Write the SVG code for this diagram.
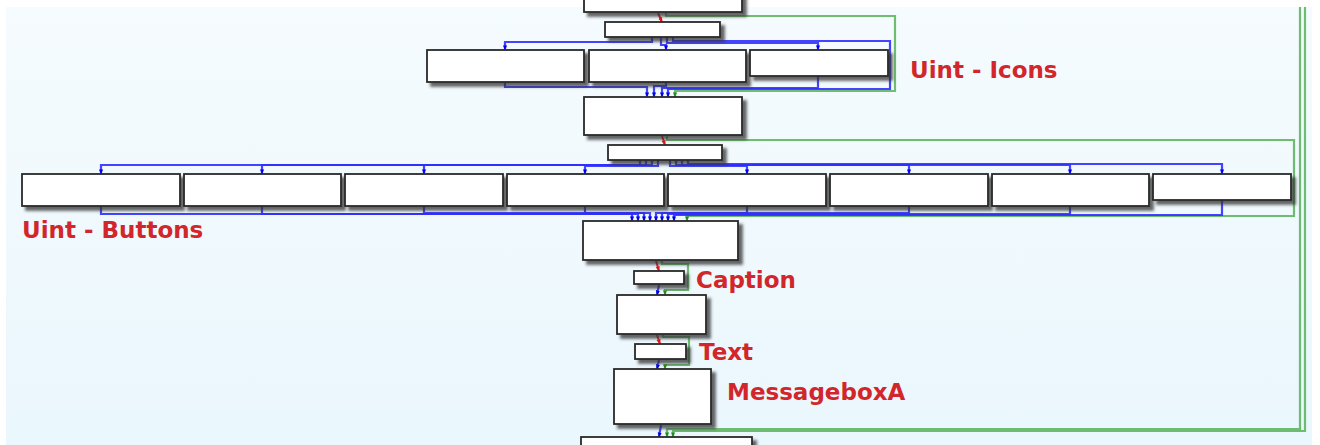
<svg xmlns="http://www.w3.org/2000/svg" width="1320" height="445" viewBox="0 0 1320 445">
<defs>
<linearGradient id="bg" x1="0" y1="0" x2="0" y2="1">
<stop offset="0" stop-color="#f5fbfe"/>
<stop offset="1" stop-color="#eaf7fd"/>
</linearGradient>
<filter id="sh" x="-10%" y="-30%" width="130%" height="180%">
<feDropShadow dx="4" dy="4" stdDeviation="1.8" flood-color="#333" flood-opacity="0.75"/>
</filter>
<marker id="ag" viewBox="0 0 6 6" refX="5.5" refY="3" markerWidth="5" markerHeight="5" orient="auto" markerUnits="userSpaceOnUse"><path d="M0 0.5 L6 3 L0 5.5 Z" fill="#1e8c1e"/></marker>
<marker id="abl" viewBox="0 0 6 6" refX="5.5" refY="3" markerWidth="5" markerHeight="5" orient="auto" markerUnits="userSpaceOnUse"><path d="M0 0.5 L6 3 L0 5.5 Z" fill="#0000ee"/></marker>
<marker id="ar" viewBox="0 0 6 6" refX="5.5" refY="3" markerWidth="5" markerHeight="5" orient="auto" markerUnits="userSpaceOnUse"><path d="M0 0.5 L6 3 L0 5.5 Z" fill="#ee1111"/></marker>
</defs>
<style>
.n{fill:#ffffff;stroke:#2a2a2a;stroke-width:1.8;filter:url(#sh)}
.b{fill:none;stroke:#3030ff;stroke-opacity:0.9;stroke-width:2.2;marker-end:url(#abl)}
.g{fill:none;stroke:#4cae4c;stroke-opacity:0.8;stroke-width:2.2;marker-end:url(#ag)}
.r{fill:none;stroke:#ee2222;stroke-width:2;marker-end:url(#ar)}
.l{font-family:"DejaVu Sans",sans-serif;font-weight:bold;font-size:23px;fill:#d3262a}
</style>
<rect x="6" y="7" width="1306" height="438" fill="url(#bg)"/>
<g id="connectors">
<path class="r" d="M658 13 L662 22"/>
<path class="g" d="M666 13 V16 H895 V91 H675 V97"/>
<path class="b" d="M652 37 V42 H505 V50"/>
<path class="b" d="M661 37 V45 H666 V50"/>
<path class="b" d="M667 37 V43 H818 V50"/>
<path class="b" d="M673 37 V41 H890 V89 H668 V97"/>
<path class="b" d="M505 82 V87 H647 V97"/>
<path class="b" d="M666 82 V86 H654 V97"/>
<path class="b" d="M818 76 V88 H662 V97"/>
<path class="r" d="M662 136 L665 145"/>
<path class="g" d="M667 136 V140 H1294 V216 H687 V221"/>
<path class="b" d="M640 160 V165 H101 V174"/>
<path class="b" d="M646 160 V165 H262 V174"/>
<path class="b" d="M652 160 V165 H424 V174"/>
<path class="b" d="M658 160 V166 H585 V174"/>
<path class="b" d="M670 160 V166 H747 V174"/>
<path class="b" d="M676 160 V165 H909 V174"/>
<path class="b" d="M682 160 V165 H1070 V174"/>
<path class="b" d="M688 160 V164 H1222 V174"/>
<path class="b" d="M101 206 V214 H632 V221"/>
<path class="b" d="M262 206 V214 H638 V221"/>
<path class="b" d="M424 206 V213 H644 V221"/>
<path class="b" d="M585 206 V213 H650 V221"/>
<path class="b" d="M747 206 V213 H656 V221"/>
<path class="b" d="M909 206 V213 H662 V221"/>
<path class="b" d="M1070 206 V214 H668 V221"/>
<path class="b" d="M1222 200 V215 H674 V221"/>
<path class="r" d="M656 261 L659 271"/>
<path class="g" d="M662 261 V264 H688 V290 H665 V295"/>
<path class="b" d="M659 285 L657 295"/>
<path class="r" d="M657 335 L660 344"/>
<path class="g" d="M663 335 V337 H689 V365 H665 V369"/>
<path class="b" d="M659 360 L657 369"/>
<path class="b" d="M661 425 L659 437"/>
<path class="g" d="M1300 7 V429 H667 V437"/>
<path class="g" d="M1305 7 V431 H673 V437"/>
</g>
<g id="n0"><rect class="n" x="584" y="-10" width="158" height="22"/></g>
<g id="n1"><rect class="n" x="605" y="22" width="115" height="15"/></g>
<g id="i1"><rect class="n" x="427" y="50" width="157" height="32"/></g>
<g id="i2"><rect class="n" x="589" y="50" width="157" height="32"/></g>
<g id="i3"><rect class="n" x="750" y="50" width="138" height="26"/></g>
<g id="n3"><rect class="n" x="584" y="97" width="158" height="38"/></g>
<g id="n4"><rect class="n" x="608" y="145" width="114" height="15"/></g>
<g id="b1"><rect class="n" x="22" y="174" width="158" height="32"/></g>
<g id="b2"><rect class="n" x="184" y="174" width="157" height="32"/></g>
<g id="b3"><rect class="n" x="345" y="174" width="158" height="32"/></g>
<g id="b4"><rect class="n" x="507" y="174" width="157" height="32"/></g>
<g id="b5"><rect class="n" x="668" y="174" width="158" height="32"/></g>
<g id="b6"><rect class="n" x="830" y="174" width="158" height="32"/></g>
<g id="b7"><rect class="n" x="992" y="174" width="157" height="32"/></g>
<g id="b8"><rect class="n" x="1153" y="174" width="138" height="26"/></g>
<g id="n5"><rect class="n" x="583" y="221" width="155" height="39"/></g>
<g id="cap"><rect class="n" x="634" y="271" width="50" height="13"/></g>
<g id="n6"><rect class="n" x="617" y="295" width="89" height="39"/></g>
<g id="txt"><rect class="n" x="635" y="344" width="51" height="15"/></g>
<g id="mb"><rect class="n" x="614" y="369" width="97" height="55"/></g>
<g id="bot"><rect class="n" x="581" y="437" width="171" height="20"/></g>
<g id="labels">
<text class="l" x="910" y="78">Uint - Icons</text>
<text class="l" x="22" y="238">Uint - Buttons</text>
<text class="l" x="696" y="288">Caption</text>
<text class="l" x="699" y="360">Text</text>
<text class="l" x="727" y="400">MessageboxA</text>
</g>
</svg>
